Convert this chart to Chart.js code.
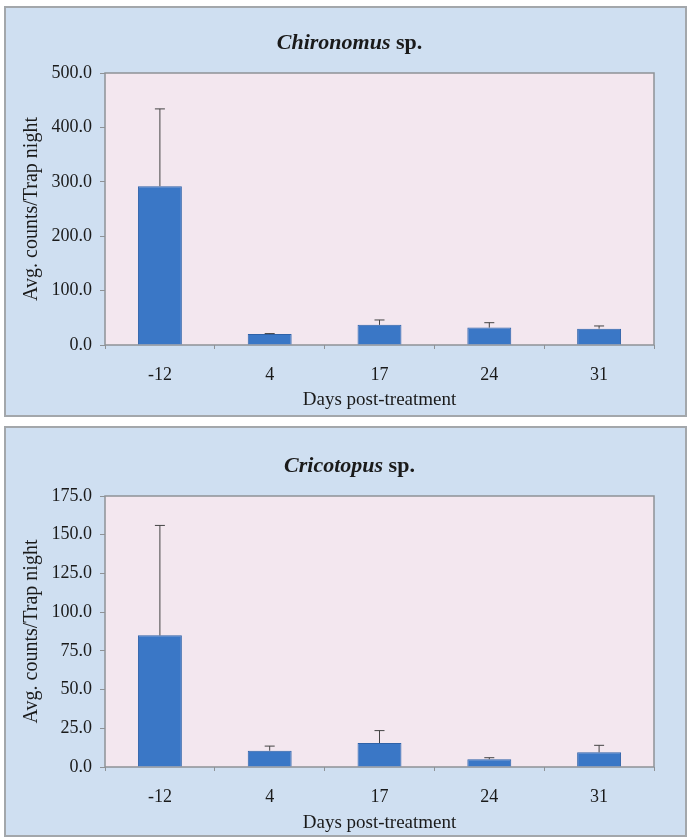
<!DOCTYPE html>
<html>
<head>
<meta charset="utf-8">
<script src="https://cdn.jsdelivr.net/npm/chart.js@4"></script>
<style>
  body { margin: 0; background: #ffffff; }
  .panel {
    position: absolute;
    left: 4px;
    width: 683px;
    height: 411px;
    box-sizing: border-box;
    border: 2px solid #a3a7ab;
    background: #cfdff1;
  }
  .panel canvas { position: absolute; left: 0; top: 0; }
</style>
</head>
<body>
<div class="panel" style="top:6px"><canvas id="chironomusChart" width="679" height="407"></canvas></div>
<div class="panel" style="top:426px"><canvas id="cricotopusChart" width="679" height="407"></canvas></div>
<script>
// Days post-treatment (categories)
const days = ['-12', '4', '17', '24', '31'];

// Chironomus sp. - average counts per trap night and standard error
const chironomusMean = [292, 20, 37, 32, 30];
const chironomusErr = [142, 1, 9, 9, 5];
const chironomusAxis = { max: 500, step: 100 };

// Cricotopus sp. - average counts per trap night and standard error
const cricotopusMean = [85, 10.5, 15.5, 5, 9.5];
const cricotopusErr = [71, 3, 8, 1, 4.5];
const cricotopusAxis = { max: 175, step: 25 };

const serif = '"Liberation Serif", "Times New Roman", serif';
const textColor = '#1a1a1a';

// pink plot background + box around it
const plotBox = {
    id: 'plotBox',
    beforeDatasetsDraw(chart) {
        const { ctx, chartArea: a } = chart;
        ctx.save();
        ctx.fillStyle = '#f3e7ef';
        ctx.fillRect(a.left, a.top, a.right - a.left, a.bottom - a.top);
        ctx.strokeStyle = '#8e9296';
        ctx.lineWidth = 1.5;
        ctx.strokeRect(a.left, a.top, a.right - a.left, a.bottom - a.top);
        ctx.restore();
    }
};

// error bars (upper half only, as in the original)
const errorBars = {
    id: 'errorBars',
    afterDatasetsDraw(chart) {
        const { ctx } = chart;
        const yScale = chart.scales.y;
        const errs = chart.options.plugins.errorBars.values;
        const meta = chart.getDatasetMeta(0);
        ctx.save();
        ctx.strokeStyle = '#444444';
        ctx.lineWidth = 1;
        meta.data.forEach((bar, i) => {
            const v = chart.data.datasets[0].data[i];
            const yTop = yScale.getPixelForValue(v + errs[i]);
            ctx.beginPath();
            ctx.moveTo(bar.x, bar.y);
            ctx.lineTo(bar.x, yTop);
            ctx.moveTo(bar.x - 5, yTop);
            ctx.lineTo(bar.x + 5, yTop);
            ctx.stroke();
        });
        ctx.restore();
    }
};

// title with italic genus name
const mixedTitle = {
    id: 'mixedTitle',
    afterDraw(chart) {
        const { ctx, chartArea } = chart;
        const opts = chart.options.plugins.mixedTitle;
        const fItalic = 'italic bold 22px ' + serif;
        const fBold = 'bold 22px ' + serif;
        ctx.save();
        ctx.font = fItalic;
        const w1 = ctx.measureText(opts.genus).width;
        ctx.font = fBold;
        const w2 = ctx.measureText(' sp.').width;
        const x = chart.width / 2 + 4 - (w1 + w2) / 2;
        const y = chartArea.top - 24;
        ctx.fillStyle = textColor;
        ctx.textBaseline = 'alphabetic';
        ctx.textAlign = 'left';
        ctx.font = fItalic;
        ctx.fillText(opts.genus, x, y);
        ctx.font = fBold;
        ctx.fillText(' sp.', x + w1, y);
        ctx.restore();
    }
};

function makeChart(id, genus, means, errs, axis, padTop, axisH, xTitlePad) {
    const ctx = document.getElementById(id).getContext('2d');
    return new Chart(ctx, {
        type: 'bar',
        data: {
            labels: days,
            datasets: [{
                data: means,
                backgroundColor: '#3a77c6',
                borderColor: '#2e62a8',
                borderWidth: 1,
                barPercentage: 0.4,
                categoryPercentage: 1
            }]
        },
        options: {
            responsive: false,
            animation: false,
            layout: { padding: { top: padTop, right: 31, left: 0, bottom: 0 } },
            plugins: {
                legend: { display: false },
                tooltip: { enabled: false },
                mixedTitle: { genus: genus },
                errorBars: { values: errs }
            },
            scales: {
                x: {
                    afterFit(scale) { scale.height = axisH; },
                    border: { display: false },
                    grid: { offset: true, drawOnChartArea: false, drawTicks: true, tickLength: 4, color: '#8e9296' },
                    ticks: { color: textColor, padding: 15, font: { family: serif, size: 18 } },
                    title: {
                        display: true,
                        text: 'Days post-treatment',
                        color: textColor,
                        font: { family: serif, size: 19 },
                        padding: { top: 4, bottom: xTitlePad }
                    }
                },
                y: {
                    min: 0,
                    max: axis.max,
                    afterFit(scale) { scale.width = 99; },
                    border: { display: false },
                    grid: { drawOnChartArea: false, drawTicks: true, tickLength: 5, color: '#8e9296' },
                    ticks: {
                        stepSize: axis.step,
                        color: textColor,
                        padding: 8,
                        font: { family: serif, size: 18 },
                        callback: v => v.toFixed(1)
                    },
                    title: {
                        display: true,
                        text: 'Avg. counts/Trap night',
                        color: textColor,
                        font: { family: serif, size: 20 },
                        padding: { top: 14, bottom: 4 }
                    }
                }
            }
        },
        plugins: [plotBox, errorBars, mixedTitle]
    });
}

makeChart('chironomusChart', 'Chironomus', chironomusMean, chironomusErr, chironomusAxis, 65, 70, 4);
makeChart('cricotopusChart', 'Cricotopus', cricotopusMean, cricotopusErr, cricotopusAxis, 68, 68, 1);
</script>
</body>
</html>
